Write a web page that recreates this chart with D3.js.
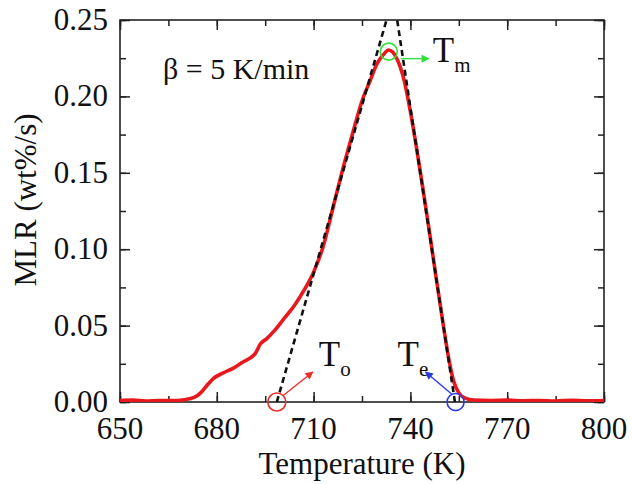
<!DOCTYPE html>
<html>
<head>
<meta charset="utf-8">
<script src="https://cdn.jsdelivr.net/npm/d3@7"></script>
<style>
  body { margin: 0; background: #fff; }
  text { font-family: "Liberation Serif", "Times New Roman", serif; fill: #111; }
</style>
</head>
<body>
<div id="chart"></div>
<script>
// temperature (K) and mass loss rate (wt%/s)
let temps = [650,654,658,662,666,670,673,675,677,679,682,685,688,690.5,692,693.5,695.5,698,701,704,707,710,713,716,719,722,725,727.6,729.7,731.5,733.3,734.5,736,738,740,742,744,746,748,750,752,753.5,755,757,759.6,765,770,775,780,785,790,795,800];
let mlr = [0.001,0.0012,0.0006,0.001,0.0009,0.0015,0.003,0.006,0.011,0.0155,0.019,0.022,0.026,0.029,0.032,0.038,0.0415,0.047,0.055,0.063,0.073,0.085,0.102,0.127,0.152,0.175,0.197,0.2107,0.2216,0.227,0.2304,0.229,0.2238,0.211,0.19,0.165,0.138,0.11,0.081,0.053,0.027,0.013,0.006,0.0025,0.0012,0.001,0.0012,0.0008,0.001,0.0007,0.0011,0.0008,0.001];

// tangent lines (dashed)
let onsetLine = [[698.6, 0], [732.6, 0.25]];
let endLine = [[753.8, 0], [735.9, 0.25]];

// characteristic temperatures
let Tonset = 698.6, Tpeak = 733.3, Tpeak_v = 0.2293, Tend = 754.0;

let xTicks = [650, 680, 710, 740, 770, 800];
let yTicks = [0, 0.05, 0.10, 0.15, 0.20, 0.25];

let width = 632, height = 484;
let margin = {top: 20, right: 28, bottom: 82, left: 120};
let w = width - margin.left - margin.right;
let h = height - margin.top - margin.bottom;

let svg = d3.select("#chart").append("svg")
  .attr("width", width)
  .attr("height", height);

let defs = svg.append("defs");
defs.append("clipPath").attr("id", "clip")
  .append("rect").attr("width", w).attr("height", h);

function arrowMarker(id, col) {
  defs.append("marker")
    .attr("id", id)
    .attr("viewBox", "0 0 10 10")
    .attr("refX", 9).attr("refY", 5)
    .attr("markerWidth", 10).attr("markerHeight", 8)
    .attr("markerUnits", "userSpaceOnUse")
    .attr("orient", "auto")
    .append("path").attr("d", "M0,0 L10,5 L0,10 Z").attr("fill", col);
}
arrowMarker("arR", "#e8302a");
arrowMarker("arG", "#2ee03a");
arrowMarker("arB", "#2a3ae0");

let g = svg.append("g").attr("transform", `translate(${margin.left},${margin.top})`);

let x = d3.scaleLinear().domain([650, 800]).range([0, w]);
let y = d3.scaleLinear().domain([0, 0.25]).range([h, 0]);

let xMinor = d3.range(650, 801, 15);
let yMinor = d3.range(0, 0.2501, 0.025);

// axes, ticks pointing inward
function styleAxis(sel) {
  sel.select(".domain").remove();
  sel.selectAll("line").attr("stroke", "#222").attr("stroke-width", 1.5);
  sel.selectAll("text").remove();
}
g.append("g").attr("transform", `translate(0,${h})`)
  .call(d3.axisBottom(x).tickValues(xMinor).tickSize(-6)).call(styleAxis);
g.append("g").attr("transform", `translate(0,${h})`)
  .call(d3.axisBottom(x).tickValues(xTicks).tickSize(-10)).call(styleAxis);
g.append("g")
  .call(d3.axisTop(x).tickValues(xMinor).tickSize(-6)).call(styleAxis);
g.append("g")
  .call(d3.axisTop(x).tickValues(xTicks).tickSize(-10)).call(styleAxis);
g.append("g")
  .call(d3.axisLeft(y).tickValues(yMinor).tickSize(-6)).call(styleAxis);
g.append("g")
  .call(d3.axisLeft(y).tickValues(yTicks).tickSize(-10)).call(styleAxis);
g.append("g").attr("transform", `translate(${w},0)`)
  .call(d3.axisRight(y).tickValues(yMinor).tickSize(-6)).call(styleAxis);
g.append("g").attr("transform", `translate(${w},0)`)
  .call(d3.axisRight(y).tickValues(yTicks).tickSize(-10)).call(styleAxis);

g.append("rect")
  .attr("width", w).attr("height", h)
  .attr("fill", "none").attr("stroke", "#222").attr("stroke-width", 1.6);

// tick labels
g.selectAll(".xl").data(xTicks).enter().append("text")
  .attr("x", d => x(d)).attr("y", h + 37)
  .attr("text-anchor", "middle").attr("font-size", 31)
  .text(d => d);
g.selectAll(".yl").data(yTicks).enter().append("text")
  .attr("x", -12).attr("y", d => y(d) + 10)
  .attr("text-anchor", "end").attr("font-size", 31)
  .text(d => d3.format(".2f")(d));

// axis titles
g.append("text")
  .attr("x", w / 2).attr("y", h + 72)
  .attr("text-anchor", "middle").attr("font-size", 31)
  .text("Temperature (K)");
svg.append("text")
  .attr("transform", "translate(36,200) rotate(-90)")
  .attr("text-anchor", "middle").attr("font-size", 31)
  .text("MLR (wt%/s)");

let plot = g.append("g").attr("clip-path", "url(#clip)");

let line = d3.line().x(d => x(d[0])).y(d => y(d[1]));
let smooth = d3.line().x(d => x(d[0])).y(d => y(d[1])).curve(d3.curveMonotoneX);
let curve = temps.map((t, i) => [t, mlr[i]]);

plot.append("path")
  .datum(curve)
  .attr("d", smooth)
  .attr("fill", "none")
  .attr("stroke", "#e8181c")
  .attr("stroke-width", 3.6)
  .attr("stroke-linejoin", "round");

[onsetLine, endLine].forEach(l => {
  plot.append("path")
    .datum(l)
    .attr("d", line)
    .attr("fill", "none")
    .attr("stroke", "#111")
    .attr("stroke-width", 2.6)
    .attr("stroke-dasharray", "6,4");
});

// markers for To, Tm, Te
function marker(t, v, col, r) {
  g.append("circle")
    .attr("cx", x(t)).attr("cy", y(v)).attr("r", r)
    .attr("fill", "none").attr("stroke", col).attr("stroke-width", 1.6);
}
marker(Tonset, 0, "#e8302a", 9);
marker(Tpeak, Tpeak_v, "#2ee03a", 8.5);
marker(Tend, 0, "#2a3ae0", 8.5);

function arrow(x1, y1, x2, y2, col, id) {
  g.append("line")
    .attr("x1", x1).attr("y1", y1).attr("x2", x2).attr("y2", y2)
    .attr("stroke", col).attr("stroke-width", 1.4)
    .attr("marker-end", `url(#${id})`);
}
arrow(x(Tonset) + 7, y(0) - 7, x(Tonset) + 36, y(0) - 30, "#e8302a", "arR");
arrow(x(Tpeak) + 12, y(Tpeak_v) + 7, x(Tpeak) + 40, y(Tpeak_v) + 7, "#2ee03a", "arG");
arrow(x(Tend) - 4, y(0) - 8, x(Tend) - 30, y(0) - 30, "#2a3ae0", "arB");

function tLabel(px, py, sub) {
  let t = g.append("text").attr("x", px).attr("y", py).attr("font-size", 35);
  t.append("tspan").text("T");
  t.append("tspan").attr("dy", 10).attr("font-size", 21).text(sub);
}
tLabel(x(Tonset) + 42, y(0) - 36, "o");
tLabel(x(Tend) - 58, y(0) - 36, "e");
tLabel(x(Tpeak) + 44, y(Tpeak_v) + 10, "m");

// heating rate
g.append("text")
  .attr("x", 43).attr("y", 59)
  .attr("font-size", 30)
  .text("β = 5 K/min");
</script>
</body>
</html>
